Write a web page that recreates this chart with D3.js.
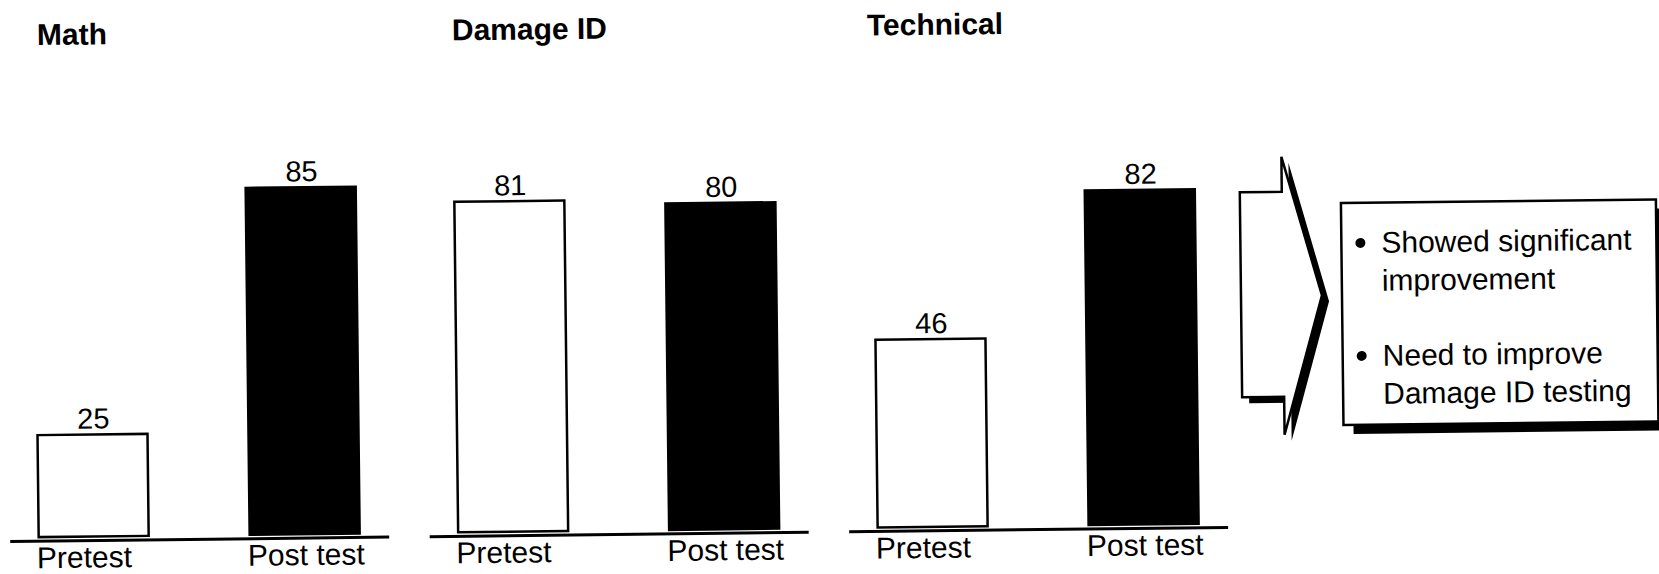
<!DOCTYPE html>
<html>
<head>
<meta charset="utf-8">
<script src="https://cdn.jsdelivr.net/npm/d3@7"></script>
<style>
  html, body { margin: 0; padding: 0; background: #fff; }
  svg { display: block; }
</style>
</head>
<body>
<script>
// ---------- data ----------
const subjects = ["Math", "Damage ID", "Technical"];
const tests = ["Pretest", "Post test"];
const pretestScores = [25, 81, 46];
const posttestScores = [85, 80, 82];
const bulletLines = [
  ["Showed significant", "improvement"],
  ["Need to improve", "Damage ID testing"]
];

// ---------- layout ----------
const W = 1659, H = 574;
const FONT = "'Liberation Sans', Arial, Helvetica, sans-serif";

const svg = d3.select("body").append("svg")
  .attr("width", W).attr("height", H)
  .attr("viewBox", `0 0 ${W} ${H}`);
svg.append("rect").attr("width", W).attr("height", H).attr("fill", "#fff");

// the scanned original is tilted slightly
const root = svg.append("g").attr("transform", "rotate(-0.66,830,300)");

const panelX = d3.scaleBand().domain(subjects).range([36, 36 + 3 * 419.5]).padding(0);
const titleX = d3.scalePoint().domain(subjects).range([40, 870]);
const barX = d3.scaleBand().domain(tests).range([0, 321]).paddingInner(0.4787).paddingOuter(0);
const y = d3.scaleLinear().domain([0, 100]).range([528, 120]);

subjects.forEach((s, i) => {
  const pg = root.append("g").attr("transform", `translate(${panelX(s)},0)`);
  const vals = [pretestScores[i], posttestScores[i]];
  const rows = tests.map((t, j) => ({ t, v: vals[j] }));

  // title
  root.append("text")
    .attr("x", titleX(s)).attr("y", 36)
    .attr("font-family", FONT).attr("font-size", 30).attr("font-weight", "bold")
    .attr("fill", "#000")
    .text(s);

  // baseline axis (domain line only)
  const axisScale = barX.copy().range([barX.range()[0] - 29, barX.range()[1] + 29]);
  const axis = d3.axisBottom(axisScale).tickSize(0).tickFormat("");
  const ag = pg.append("g").attr("transform", `translate(0,${y(0) + 3.5})`).call(axis);
  ag.select(".domain").attr("stroke", "#000").attr("stroke-width", 3);
  ag.selectAll(".tick").remove();

  // bars
  pg.selectAll("rect.bar").data(rows).join("rect")
    .attr("class", "bar")
    .attr("x", d => barX(d.t))
    .attr("y", d => y(d.v))
    .attr("width", barX.bandwidth())
    .attr("height", d => y(0) - y(d.v))
    .attr("fill", d => d.t === "Pretest" ? "#fff" : "#000")
    .attr("stroke", "#000")
    .attr("stroke-width", 2.5);

  // value labels
  pg.selectAll("text.val").data(rows).join("text")
    .attr("class", "val")
    .attr("x", d => barX(d.t) + barX.bandwidth() / 2 + 1)
    .attr("y", d => y(d.v) - 6)
    .attr("text-anchor", "middle")
    .attr("font-family", FONT).attr("font-size", 29)
    .attr("fill", "#000")
    .text(d => d.v);

  // category labels
  pg.selectAll("text.cat").data(rows).join("text")
    .attr("class", "cat")
    .attr("x", d => barX(d.t) - 2)
    .attr("y", 559)
    .attr("font-family", FONT).attr("font-size", 30)
    .attr("fill", "#000")
    .text(d => d.t);
});

// ---------- arrow ----------
const ax0 = 1241, ax1 = 1283, arTop = 197, arBot = 402, notchTop = 162, notchBot = 440, tipX = 1322, tipY = 301;
const arrowPts = [
  [ax0, arTop], [ax1, arTop], [ax1, notchTop], [tipX, tipY],
  [ax1, notchBot], [ax1, arBot], [ax0, arBot]
];
const lineGen = d3.line().curve(d3.curveLinearClosed);
root.append("path")
  .attr("d", lineGen(arrowPts))
  .attr("transform", "translate(7,6)")
  .attr("fill", "#000");
root.append("path")
  .attr("d", lineGen(arrowPts))
  .attr("fill", "#fff")
  .attr("stroke", "#000")
  .attr("stroke-width", 2.5)
  .attr("stroke-linejoin", "miter");

// ---------- note box ----------
const box = { x: 1342, y: 209, w: 315, h: 222 };
root.append("rect")
  .attr("x", box.x + 10).attr("y", box.y + 9)
  .attr("width", box.w).attr("height", box.h)
  .attr("fill", "#000");
root.append("rect")
  .attr("x", box.x).attr("y", box.y)
  .attr("width", box.w).attr("height", box.h)
  .attr("fill", "#fff").attr("stroke", "#000").attr("stroke-width", 2.5);

const bulletBase = [50, 163];
const lineGap = 38;
bulletLines.forEach((lines, bi) => {
  const by = box.y + bulletBase[bi];
  root.append("circle")
    .attr("cx", box.x + 19).attr("cy", by - 10).attr("r", 5)
    .attr("fill", "#000");
  lines.forEach((ln, li) => {
    root.append("text")
      .attr("x", box.x + 40)
      .attr("y", by + li * lineGap)
      .attr("font-family", FONT).attr("font-size", 30)
      .attr("fill", "#000")
      .text(ln);
  });
});
</script>
</body>
</html>
